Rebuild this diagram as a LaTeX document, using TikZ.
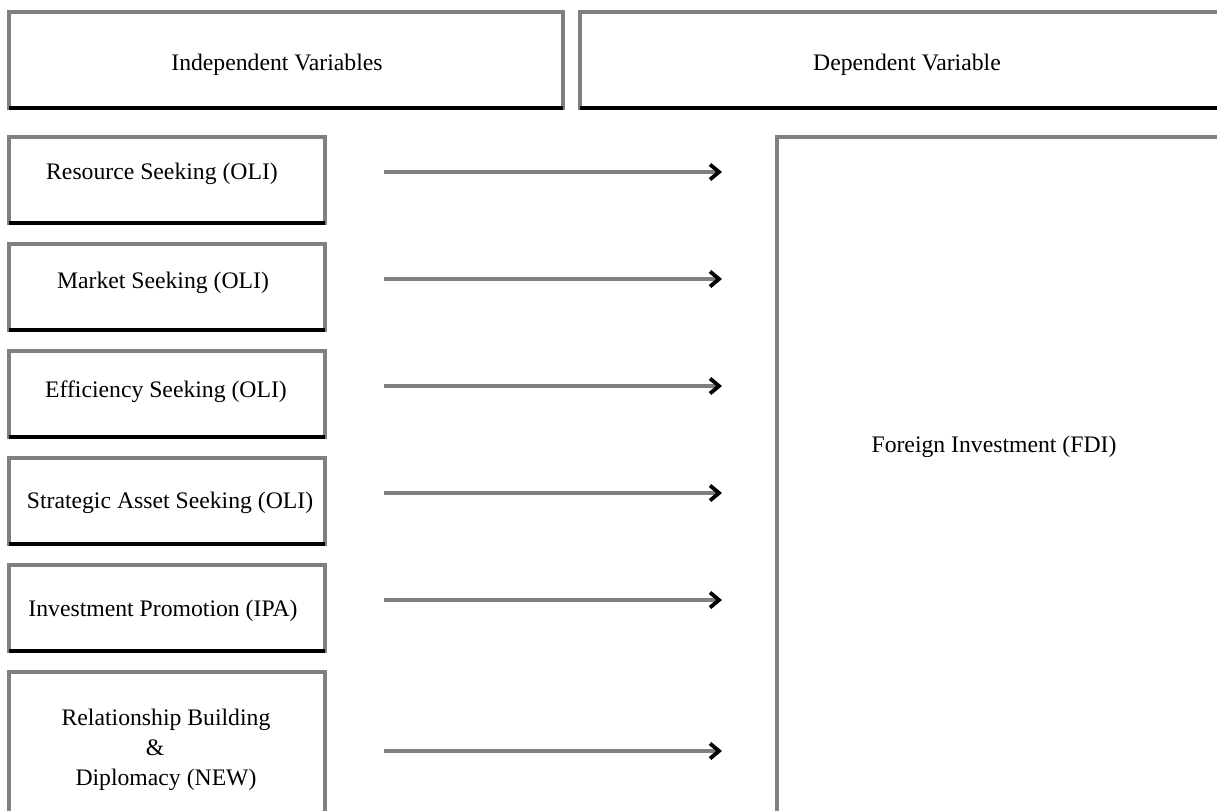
\documentclass[tikz,border=0pt]{standalone}
\usepackage{fontspec}
\setmainfont{Liberation Serif}
\usetikzlibrary{arrows.meta,fit}
\begin{document}
\begin{tikzpicture}[x=0.5pt,y=-0.5pt,
  box/.style={draw=black!50, line width=1.9pt, inner sep=0pt, outer sep=0pt, fit=#1},
  lbl/.style={font=\fontsize{11.85}{15}\selectfont, inner sep=0pt, align=center},
  arr/.style={draw=black!50, line width=1.6pt, -{Straight Barb[length=4.5pt,width=7.5pt,black,line width=1.9pt]}},
  base/.style={draw=black, line width=1.95pt}]
\useasboundingbox (0,0) rectangle (1217,810);
\clip (0,0) rectangle (1217,810);
% corner coordinates
\coordinate (ivA) at (9,12);   \coordinate (ivB) at (563,108);
\coordinate (dvA) at (580,12); \coordinate (dvB) at (1240,108);
\coordinate (fdA) at (777,137); \coordinate (fdB) at (1240,840);
\coordinate (r1A) at (9,137); \coordinate (r1B) at (325,223);
\coordinate (r2A) at (9,244); \coordinate (r2B) at (325,330);
\coordinate (r3A) at (9,351); \coordinate (r3B) at (325,437);
\coordinate (r4A) at (9,458); \coordinate (r4B) at (325,544);
\coordinate (r5A) at (9,565); \coordinate (r5B) at (325,651);
\coordinate (r6A) at (9,672); \coordinate (r6B) at (325,840);
% boxes
\node[box={(ivA)(ivB)}] (iv) {};
\node[box={(dvA)(dvB)}] (dv) {};
\node[box={(fdA)(fdB)}] (fd) {};
\node[box={(r1A)(r1B)}] (r1) {};
\node[box={(r2A)(r2B)}] (r2) {};
\node[box={(r3A)(r3B)}] (r3) {};
\node[box={(r4A)(r4B)}] (r4) {};
\node[box={(r5A)(r5B)}] (r5) {};
\node[box={(r6A)(r6B)}] (r6) {};
\foreach \b in {iv,dv,r1,r2,r3,r4,r5}{
  \draw[base] (\b.south west) -- (\b.south east);
}
% labels
\node[lbl] (tiv) at (277,65) {Independent Variables};
\node[lbl] (tdv) at (907,65) {Dependent Variable};
\node[lbl] (t1) at (162,174) {Resource Seeking (OLI)};
\node[lbl] (t2) at (163,283) {Market Seeking (OLI)};
\node[lbl] (t3) at (166,392) {Efficiency Seeking (OLI)};
\node[lbl] (t4) at (170,503) {Strategic Asset Seeking (OLI)};
\node[lbl] (t5) at (163,611) {Investment Promotion (IPA)};
\node[lbl] (t6) at (166,750) {Relationship Building\\\&\rule{11pt}{0pt}\\Diplomacy (NEW)};
\node[lbl] (tfd) at (994,447) {Foreign Investment (FDI)};
% arrows
\coordinate (s1) at (384,172); \coordinate (e1) at (722,172);
\coordinate (s2) at (384,279); \coordinate (e2) at (722,279);
\coordinate (s3) at (384,386); \coordinate (e3) at (722,386);
\coordinate (s4) at (384,493); \coordinate (e4) at (722,493);
\coordinate (s5) at (384,600); \coordinate (e5) at (722,600);
\coordinate (s6) at (384,751); \coordinate (e6) at (722,751);
\foreach \i in {1,...,6}{
  \draw[arr] (s\i) -- (e\i);
}
\end{tikzpicture}
\end{document}
